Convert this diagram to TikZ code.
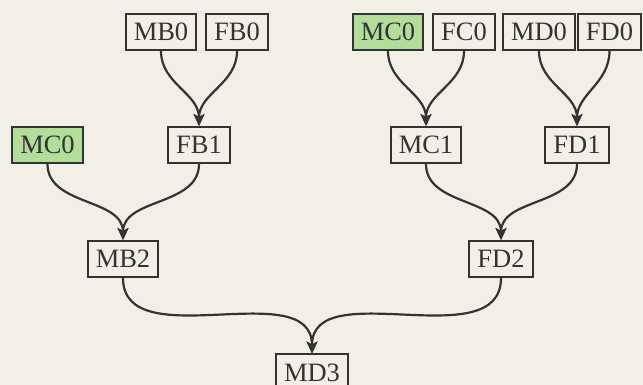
\documentclass[tikz,border=0pt]{standalone}
\usepackage{fontspec}
\setmainfont{Liberation Serif}
\usepackage{tikz}
\usepackage{xcolor}
\usetikzlibrary{arrows.meta, positioning, calc}

\definecolor{paper}{HTML}{F2F0E6}
\definecolor{inkgray}{HTML}{333333}
\definecolor{leafgreen}{HTML}{B3DD9B}

\begin{document}
\begin{tikzpicture}[x=1pt, y=1pt,
    box/.style={draw=inkgray, line width=2pt, fill=paper, text=inkgray,
        inner xsep=8pt, inner ysep=0pt, minimum height=36pt,
        font=\fontsize{26.5}{30}\selectfont},
    picked/.style={box, fill=leafgreen},
    link/.style={draw=inkgray, line width=2.2pt,
        -{Stealth[length=12pt, width=11pt, inset=3pt]}, out=-90, in=90}]
    % Background and page frame
    \fill[paper] (0,0) rectangle (643,385);
    \useasboundingbox (0,0) rectangle (643,385);

    % First generation
    \node[box] (mbA) at (161,353) {MB0};
    \node[box] (fbA) at (237,353) {FB0};
    \node[picked] (mcA) at (388,353) {MC0};
    \node[box] (fcA) at (464,353) {FC0};
    \node[box] (mdA) at (539,353) {MD0};
    \node[box] (fdA) at (609.5,353) {FD0};

    % Second generation
    \node[picked] (mcX) at (47.5,240) {MC0};
    \node[box] (fbB) at (199,240) {FB1};
    \node[box] (mcB) at (426,240) {MC1};
    \node[box] (fdB) at (577,240) {FD1};

    % Third and fourth generation
    \node[box] (mbC) at (123,126) {MB2};
    \node[box] (fdC) at (501,126) {FD2};
    \node[box] (mdD) at (312,12.5) {MD3};

    % Descent lines
    \foreach \a/\b in {mbA/fbB, fbA/fbB, mcA/mcB, fcA/mcB, mdA/fdB, fdA/fdB,
                       mcX/mbC, fbB/mbC, mcB/fdC, fdB/fdC, mbC/mdD, fdC/mdD}
        \draw[link] (\a.south) to (\b.north);
\end{tikzpicture}
\end{document}
